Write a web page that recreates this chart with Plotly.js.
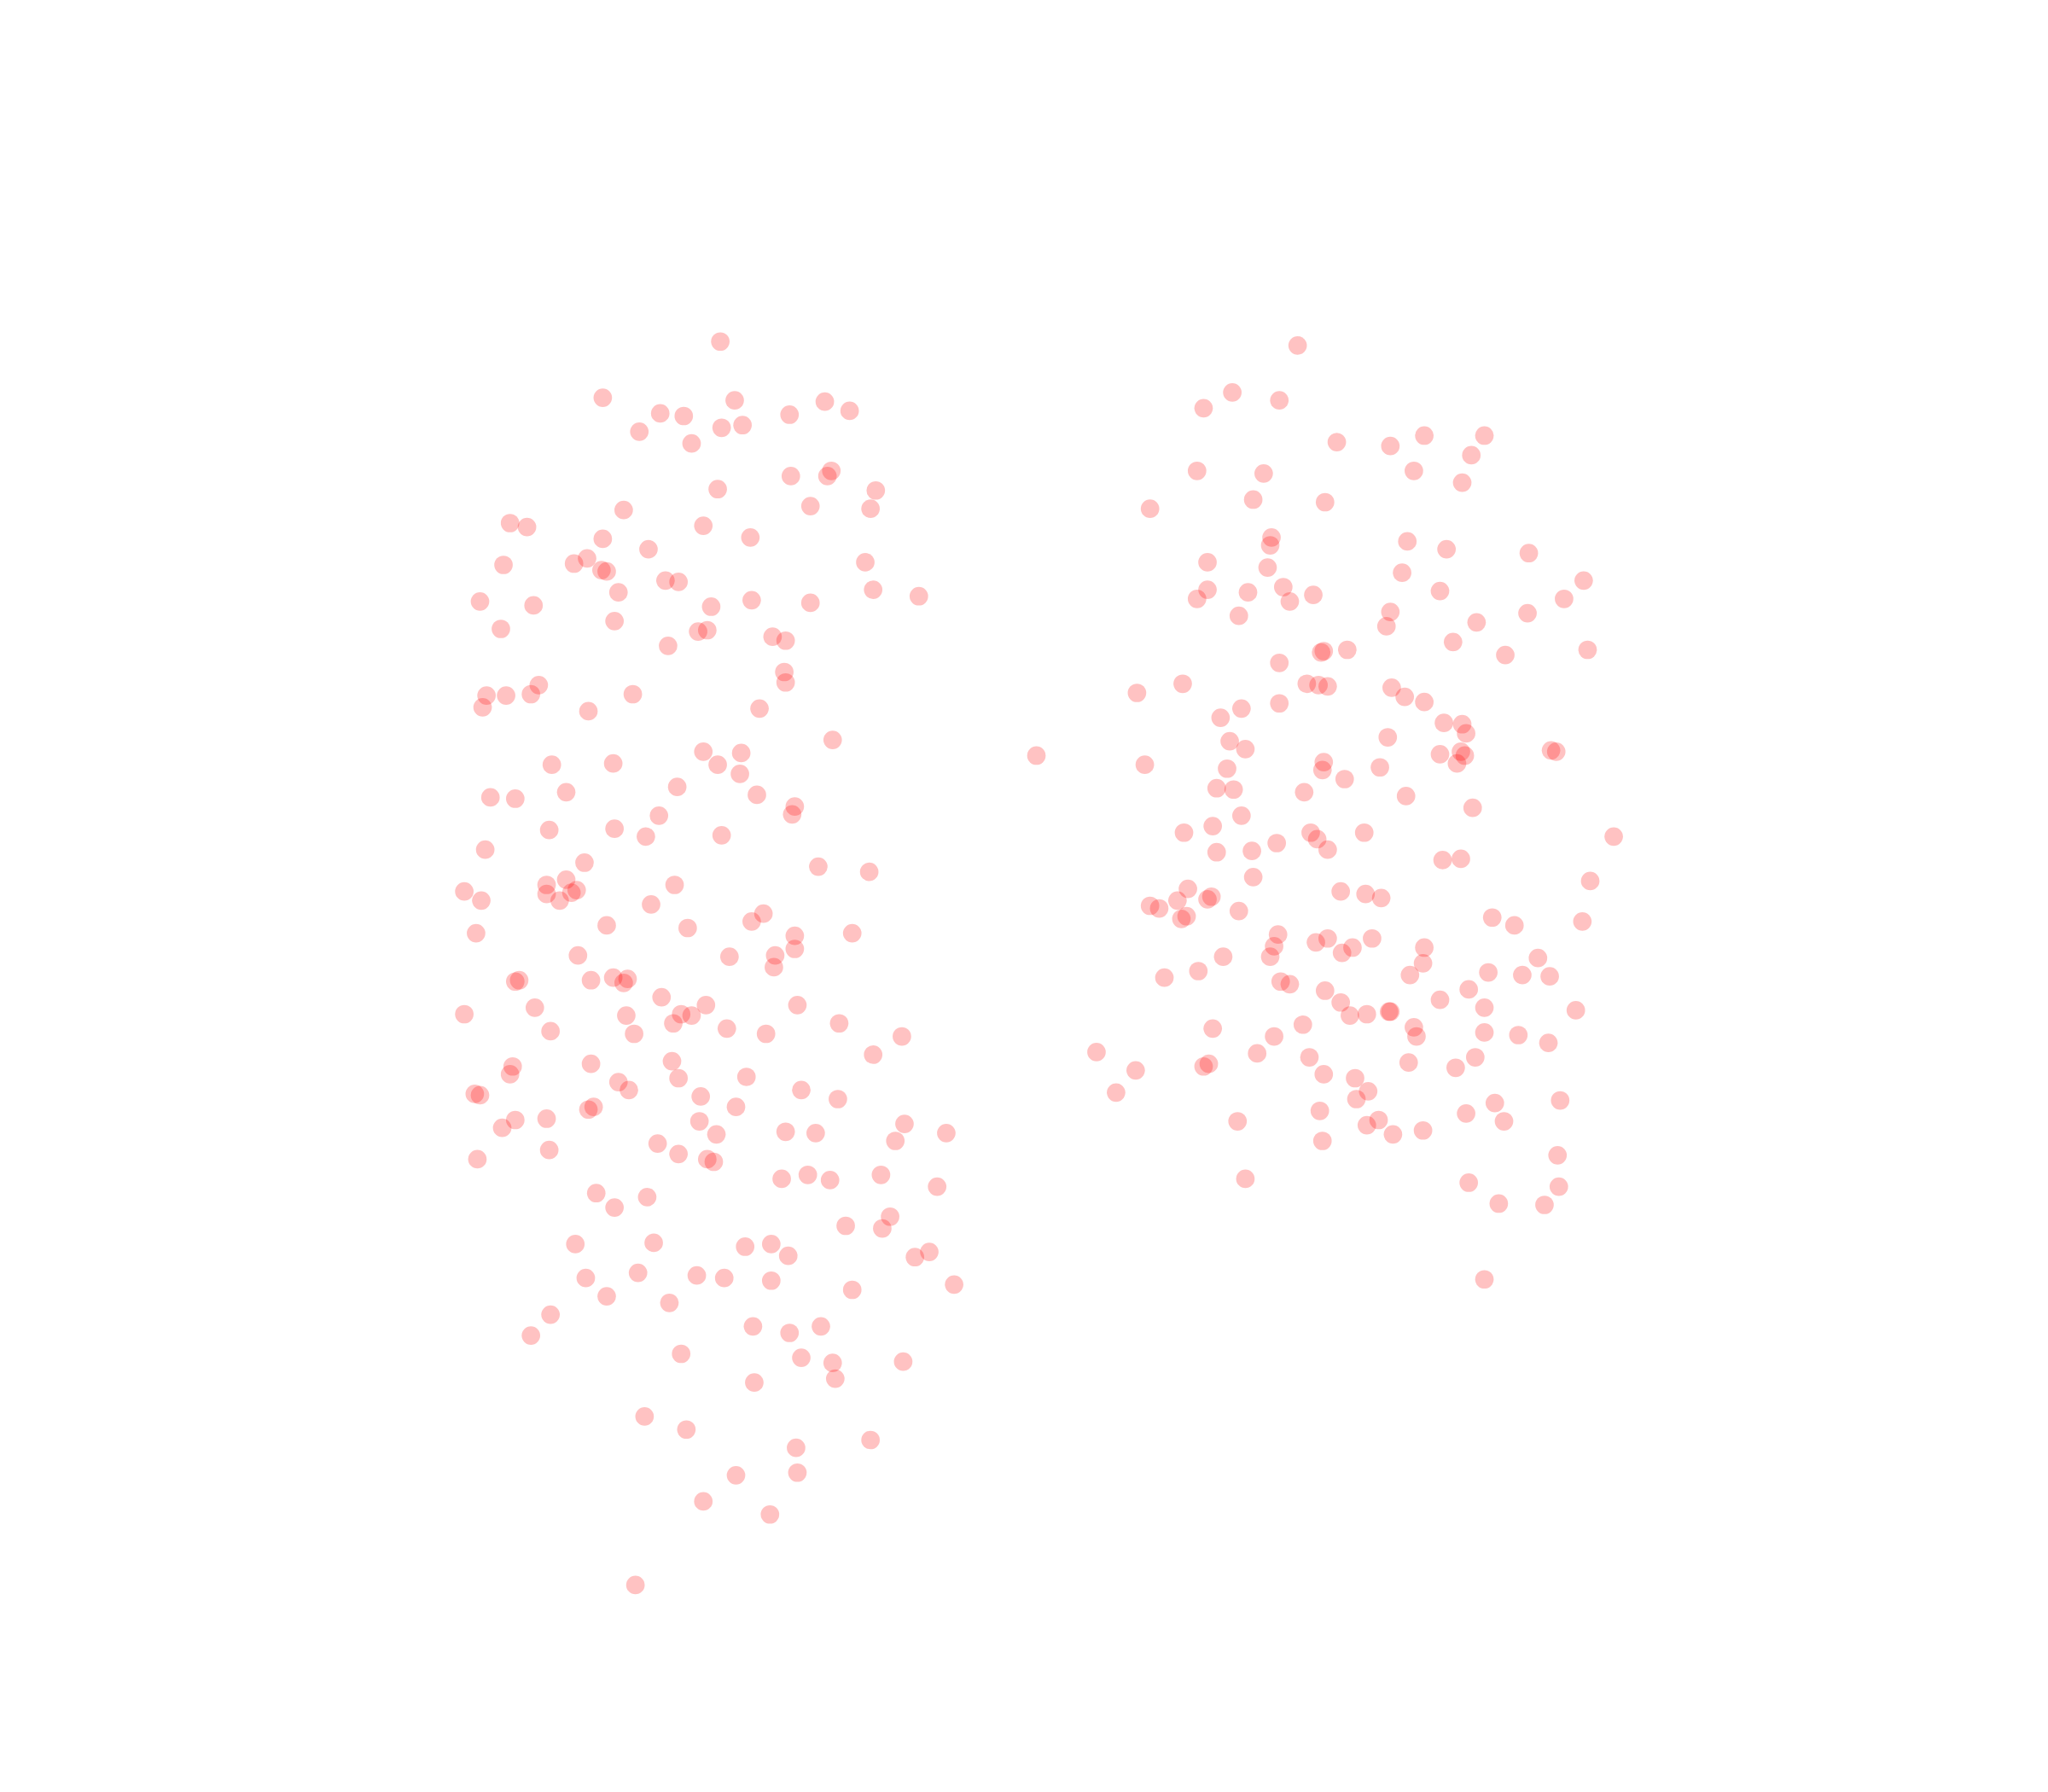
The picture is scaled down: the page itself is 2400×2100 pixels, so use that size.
<!DOCTYPE html>
<html><head><meta charset="utf-8">
<script src="https://cdn.plot.ly/plotly-3.0.1.min.js"></script>
<style>html,body{margin:0;padding:0;background:#fff}</style></head>
<body><div id="chart" style="width:2400px;height:2100px"></div>
<script>
const leftX=[551,461,505,523,562,604,631,650,489,529,552,568,605,633,636,670,549,620,666,477,390,403,538,461,574,496,385,439,449,460,464,662,509,519,473,668,703,367,408,544,575,620,470,383,534,541,511,591,601,600,601,372,387,406,412,484,369,450,581,637,538,567,469,422,549,566,518,433,579,375,394,608,606,504,420,470,494,552,371,447,626,665,433,418,418,441,437,428,516,355,368,498,584,575,464,526,364,608,652,608,442,558,593,592,394,397,452,469,477,480,506,540,610,409,355,479,521,529,515,642,421,485,556,586,690,668,392,390,452,514,473,481,519,571,363,367,536,613,641,450,454,563,394,418,384,535,601,624,692,724,548,685,503,420,519,365,541,546,598,618,635,674,717,456,495,470,647,675,681,440,500,570,590,603,700,711,448,488,533,554,590,730,652,464,512,421,406,576,604,628,521,613,637,691,639,577,493,525,609,666,610,563,538,589,486];
const leftY=[261,304,316,318,306,317,307,314,330,339,327,325,364,364,360,375,374,387,389,390,400,403,402,412,411,420,432,431,427,436,437,430,444,445,453,451,456,460,463,464,459,461,475,481,483,482,494,487,490,514,522,532,532,531,524,531,541,544,542,566,575,576,584,585,585,592,602,606,608,610,611,617,623,624,635,634,640,639,650,660,663,667,673,677,684,681,683,689,677,682,689,692,699,705,708,710,714,716,714,726,731,732,731,740,751,750,750,748,752,749,763,769,769,771,776,777,776,777,783,783,789,791,787,791,793,807,816,822,814,812,828,834,825,824,837,838,839,834,841,849,847,847,857,856,863,858,866,867,860,867,868,873,875,880,883,887,887,889,902,899,903,899,908,913,916,924,938,940,931,952,951,954,952,961,962,958,978,974,976,978,980,983,987,992,997,1006,1022,1015,1020,1015,1036,1039,1043,1042,1055,1058,1084,1094,1108,1102,1127,1129,1149,1159,1213];
const rightX=[993,943,979,921,1023,1064,1090,1136,1126,916,967,1082,1119,959,1014,880,973,972,1077,1107,924,970,1073,1170,924,955,982,1005,916,987,1102,1212,1197,948,1064,1169,1061,1130,1112,1013,1011,1031,1152,1215,979,905,870,1000,1009,1016,1065,1075,1090,979,950,934,1105,1119,1122,1062,941,953,1102,1118,1121,1187,1191,793,876,939,1013,1012,1056,1115,1029,931,944,998,1076,1127,950,928,906,1003,1044,1008,977,1016,1235,931,958,1104,1118,959,1217,909,1026,1045,1057,901,924,927,880,887,948,904,908,1142,1159,1211,978,1016,1007,1050,975,1035,1027,1090,972,936,1089,1177,917,891,1079,1139,1165,1186,980,987,1014,1124,1102,1026,1136,1206,1033,1046,1063,1064,997,928,1082,1084,975,1136,1162,1185,839,962,1002,1078,1129,1114,925,921,869,1013,1037,854,1047,1038,1144,1194,1010,1122,947,1055,1046,1151,1089,1066,1012,1192,953,1124,1193,1147,1182,1136];
const rightY=[264,300,306,312,338,341,333,333,348,360,362,360,369,382,384,389,411,417,414,420,430,434,438,423,451,453,449,455,458,460,452,444,458,471,468,469,479,476,491,498,499,497,501,497,507,523,530,523,524,525,526,533,537,538,542,549,553,554,561,564,567,573,577,575,578,574,575,578,585,588,583,589,587,584,596,603,604,606,609,618,624,632,637,637,637,642,645,650,640,652,651,658,657,671,674,680,682,684,687,689,688,686,693,695,697,703,701,702,708,705,715,718,721,718,724,725,729,725,732,732,737,733,743,748,746,744,746,747,751,753,758,757,765,767,771,773,777,776,774,774,784,787,786,793,793,790,792,798,805,806,809,813,809,817,814,816,819,822,825,836,835,841,844,842,850,852,858,857,861,858,865,868,873,884,902,905,908,921,922,979];
const markerColor='#ff0000', markerOpacity=0.24, markerSize=21.7;
const style={color:markerColor,opacity:markerOpacity,size:markerSize,line:{width:0}};
const data=[
 {type:'scatter',mode:'markers',x:leftX,y:leftY,marker:style,showlegend:false,hoverinfo:'skip'},
 {type:'scatter',mode:'markers',x:rightX,y:rightY,marker:style,showlegend:false,hoverinfo:'skip'}
];
const hidden={visible:false,fixedrange:true};
const layout={width:2400,height:2100,margin:{l:0,r:0,t:0,b:0},paper_bgcolor:'#fff',plot_bgcolor:'#fff',showlegend:false,
 xaxis:Object.assign({range:[-0.5,1567.5]},hidden),
 yaxis:Object.assign({range:[1371.5,-0.5]},hidden)};
Plotly.newPlot('chart',data,layout,{staticPlot:true,displayModeBar:false});
</script></body></html>
